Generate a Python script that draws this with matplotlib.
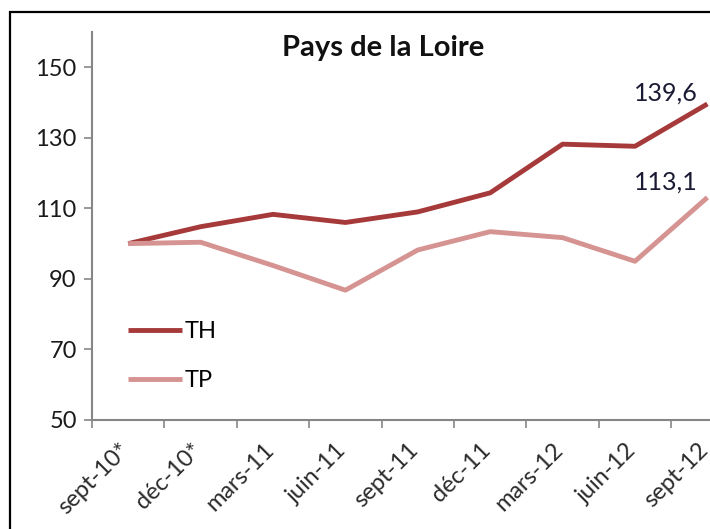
import matplotlib
matplotlib.use("Agg")
import matplotlib.pyplot as plt
import matplotlib.transforms as mtransforms
from matplotlib.patches import Rectangle

categories = ["sept-10*", "déc-10*", "mars-11", "juin-11", "sept-11",
              "déc-11", "mars-12", "juin-12", "sept-12"]
th = [100.0, 104.8, 108.3, 106.0, 109.0, 114.4, 128.2, 127.6, 139.6]
tp = [100.0, 100.4, 93.8, 86.8, 98.2, 103.4, 101.7, 95.0, 113.1]
yticks = [50, 70, 90, 110, 130, 150]

W, H = 710, 529
fig = plt.figure(figsize=(W / 100, H / 100), dpi=100)
plt.rcParams['font.family'] = ['Lato', 'DejaVu Sans']

# outer frame
fig.patches.append(Rectangle((10 / W, -0.1), 1.2, (H - 12) / H + 0.1,
                             transform=fig.transFigure, fill=False,
                             edgecolor='black', linewidth=1.6))

left, right_px = 92, 92 + 9 * 72.4
top, bottom = 32, 420
ax = fig.add_axes([left / W, (H - bottom) / H, (right_px - left) / W, (bottom - top) / H])

x = list(range(len(categories)))
th_color = '#A63A3A'
tp_color = '#D59391'
ax.plot(x, th, color=th_color, linewidth=3.5, label='TH', solid_capstyle='butt')
ax.plot(x, tp, color=tp_color, linewidth=3.5, label='TP', solid_capstyle='butt')

ax.set_xlim(-0.5, len(categories) - 0.5)
ax.set_ylim(50, 160)

ax.set_yticks(yticks)
ax.set_yticklabels([str(v) for v in yticks], fontsize=17, color='#1a1a1a')
ax.set_xticks([i - 0.5 for i in range(len(categories) + 1)])
ax.set_xticklabels([])
ax.set_xticks(x, minor=True)
ax.set_xticklabels(categories, minor=True, rotation=45, ha='right',
                   rotation_mode='anchor', fontsize=17, color='#2a2a2a')
ax.tick_params(axis='x', which='minor', length=0, pad=14)
ax.tick_params(axis='both', which='major', direction='out', length=6,
               width=1.2, color='#868686')
ax.tick_params(axis='y', pad=5)
shift = mtransforms.ScaledTranslation(-10 / 100, 0, fig.dpi_scale_trans)
for lbl in ax.get_xticklabels(minor=True):
    lbl.set_transform(lbl.get_transform() + shift)

for s in ['top', 'right']:
    ax.spines[s].set_visible(False)
for s in ['left', 'bottom']:
    ax.spines[s].set_color('#868686')
    ax.spines[s].set_linewidth(1.5)

ax.text(0.447, 0.96, 'Pays de la Loire', transform=ax.transAxes, ha='center',
        va='center', fontsize=21, fontweight='bold', color='#111111')

offsets = [8, 11]
for series, off in zip([th, tp], offsets):
    ax.annotate(f"{series[-1]:.1f}".replace('.', ','), xy=(x[-1], series[-1]),
                xytext=(-7, off), textcoords='offset points', ha='right',
                va='center', fontsize=18, color='#1a1a33')

leg = ax.legend(loc='lower left', bbox_to_anchor=(0.04, 0.05), frameon=False,
                fontsize=17, handlelength=2.3, handletextpad=0.1,
                labelspacing=1.2, borderaxespad=0)

fig.savefig('out.png', dpi=100)
